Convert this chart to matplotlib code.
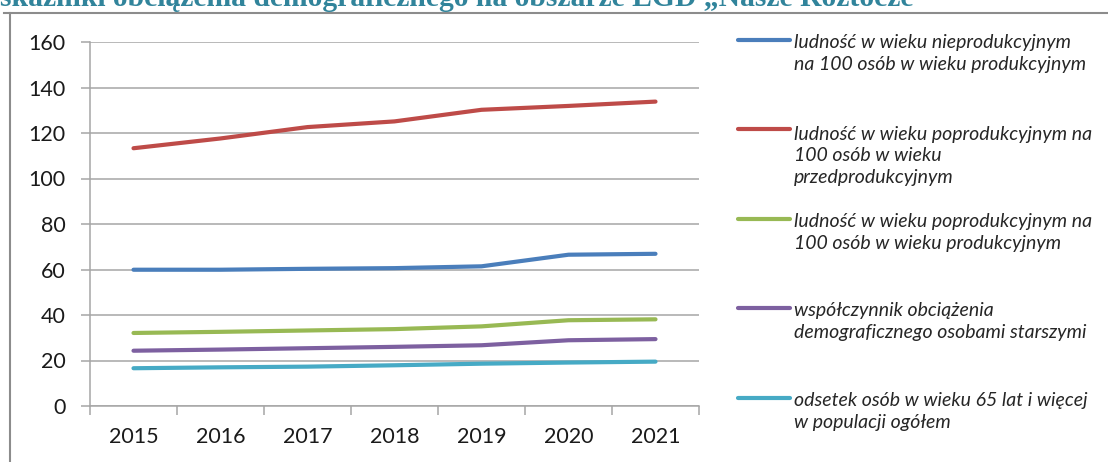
import numpy as np
import matplotlib.pyplot as plt
from matplotlib.lines import Line2D

plt.rcParams['font.family'] = ['Lato', 'DejaVu Sans']

years = ["2015", "2016", "2017", "2018", "2019", "2020", "2021"]

nieprod = [59.9, 59.9, 60.3, 60.6, 61.4, 66.5, 66.9]
poprod_przed = [113.3, 117.6, 122.6, 125.1, 130.2, 131.9, 133.8]
poprod_prod = [32.1, 32.6, 33.2, 33.8, 35.0, 37.7, 38.1]
wspolczynnik = [24.3, 24.8, 25.4, 26.0, 26.7, 28.9, 29.4]
odsetek = [16.6, 17.0, 17.3, 17.9, 18.6, 19.1, 19.5]

labels = [
    "ludność w wieku nieprodukcyjnym\nna 100 osób w wieku produkcyjnym",
    "ludność w wieku poprodukcyjnym na\n100 osób w wieku\nprzedprodukcyjnym",
    "ludność w wieku poprodukcyjnym na\n100 osób w wieku produkcyjnym",
    "współczynnik obciążenia\ndemograficznego osobami starszymi",
    "odsetek osób w wieku 65 lat i więcej\nw populacji ogółem",
]
series = [nieprod, poprod_przed, poprod_prod, wspolczynnik, odsetek]
colors = ["#4A7EBB", "#BE4B48", "#98B954", "#7D60A0", "#46AAC5"]

W, H = 1108, 462
fig = plt.figure(figsize=(W / 100, H / 100), dpi=100)
ax = fig.add_axes([90 / W, 1 - 406 / H, (699 - 90) / W, (406 - 42) / H])

x = np.arange(len(years))
for vals, c in zip(series, colors):
    ax.plot(x, vals, color=c, lw=3, solid_capstyle='round')

grid_c = "#a6a6a6"
ax.set_ylim(0, 160)
ax.set_xlim(-0.5, len(years) - 0.5)
ax.set_yticks(range(0, 161, 20))
ax.yaxis.grid(True, color=grid_c, lw=1.1)
ax.set_axisbelow(True)
for s in ['top', 'right']:
    ax.spines[s].set_visible(False)
for s in ['left', 'bottom']:
    ax.spines[s].set_color(grid_c)
    ax.spines[s].set_linewidth(1.1)

ax.set_xticks(x)
ax.set_xticklabels(years)
ax.set_xticks(np.arange(-0.5, len(years)), minor=True)
ax.tick_params(axis='x', which='major', length=0, pad=15, labelsize=15.5, labelcolor='#1a1a1a')
ax.tick_params(axis='x', which='minor', length=6.5, color=grid_c, width=1.1)
ax.tick_params(axis='y', length=6.5, color=grid_c, width=1.1, pad=11, labelsize=15.5, labelcolor='#1a1a1a')

# legend drawn next to the plot
line_y = [40, 129, 219, 308, 398]
for ly, lab, c in zip(line_y, labels, colors):
    fig.add_artist(Line2D([738 / W, 790 / W], [1 - ly / H, 1 - ly / H],
                          color=c, lw=3, solid_capstyle='round'))
    n = lab.count("\n")
    fig.text(794 / W, 1 - (ly + 6 + 24 * n) / H, lab, fontsize=14, style='italic',
             color='#262626', va='baseline', ha='left', linespacing=1.33)

# chart frame
fig.add_artist(Line2D([10 / W, 10 / W], [0, 1 - 13 / H], color='#8c8c8c', lw=1.5))
fig.add_artist(Line2D([4 / W, 1], [1 - 13 / H, 1 - 13 / H], color='#8c8c8c', lw=1.5))

fig.text(0, 1 - 6 / H, "skaźniki obciążenia demograficznego na obszarze LGD „Nasze Roztocze",
         family='Liberation Serif', weight='bold', fontsize=21.3, color='#31849B',
         va='baseline', ha='left')

fig.savefig("out.png", dpi=100)
